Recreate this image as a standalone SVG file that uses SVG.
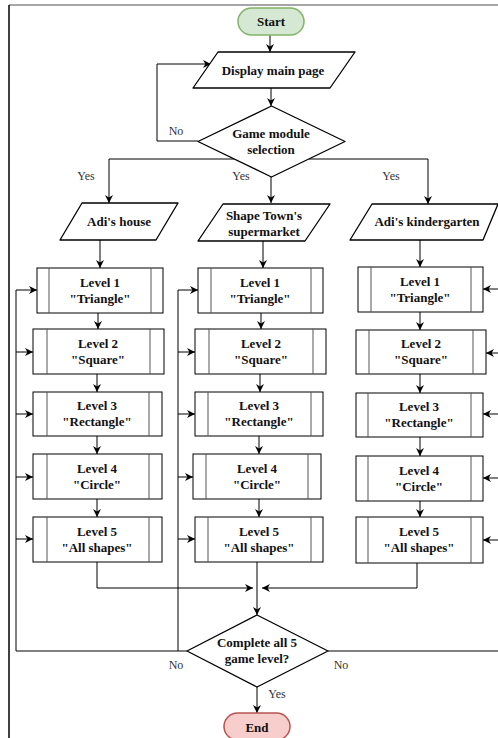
<svg xmlns="http://www.w3.org/2000/svg" width="498" height="738" viewBox="0 0 498 738">
<style>
.t{font-family:"Liberation Serif","Times New Roman","DejaVu Serif",serif;font-size:13px;font-weight:bold;fill:#111;text-anchor:middle}
.l{font-family:"Liberation Serif","Times New Roman","DejaVu Serif",serif;font-size:12px;fill:#333;text-anchor:middle}
.s{fill:#fff;stroke:#000;stroke-width:1.3;stroke-linejoin:round}
.b{fill:#fff;stroke:#000;stroke-width:1}
.i{stroke:#555;stroke-width:1;fill:none}
.c{fill:none;stroke:#000;stroke-width:1}
</style>
<defs>
<marker id="a" viewBox="0 0 10 10" refX="10" refY="5" markerWidth="8" markerHeight="8" markerUnits="userSpaceOnUse" orient="auto">
<path d="M0,0 L10,5 L0,10 L3,5 z" fill="#000"/>
</marker>
</defs>
<rect width="498" height="738" fill="#fff"/>
<g id="frame">
<line x1="9" y1="5" x2="498" y2="5" stroke="#888" stroke-width="1.5"/>
<line x1="9" y1="5" x2="9" y2="738" stroke="#000" stroke-width="1.5"/>
</g>
<g id="connectors">
<path class="c" d="M270,35 V52" marker-end="url(#a)"/>
<path class="c" d="M271,88 V106" marker-end="url(#a)"/>
<path class="c" d="M198,141 H157 V64 H211" marker-end="url(#a)"/>
<path class="c" d="M234,159 H109 V203" marker-end="url(#a)"/>
<path class="c" d="M271,177 V203" marker-end="url(#a)"/>
<path class="c" d="M309,159 H428 V204" marker-end="url(#a)"/>
<path class="c" d="M100,240 V268" marker-end="url(#a)"/>
<path class="c" d="M263,241 V268" marker-end="url(#a)"/>
<path class="c" d="M420,240 V267" marker-end="url(#a)"/>
<path class="c" d="M98,313 V329" marker-end="url(#a)"/>
<path class="c" d="M97,374 V392" marker-end="url(#a)"/>
<path class="c" d="M97,436 V454" marker-end="url(#a)"/>
<path class="c" d="M97,499 V517" marker-end="url(#a)"/>
<path class="c" d="M261,313 V329" marker-end="url(#a)"/>
<path class="c" d="M260,374 V392" marker-end="url(#a)"/>
<path class="c" d="M259,436 V454" marker-end="url(#a)"/>
<path class="c" d="M259,499 V517" marker-end="url(#a)"/>
<path class="c" d="M420,312 V330" marker-end="url(#a)"/>
<path class="c" d="M420,374 V393" marker-end="url(#a)"/>
<path class="c" d="M420,437 V456" marker-end="url(#a)"/>
<path class="c" d="M420,501 V517" marker-end="url(#a)"/>
<path class="c" d="M97,562 V588 H253" marker-end="url(#a)"/>
<path class="c" d="M417,563 V588 H262" marker-end="url(#a)"/>
<path class="c" d="M257,562 V615" marker-end="url(#a)"/>
<path class="c" d="M257,687 V713" marker-end="url(#a)"/>
<path class="c" d="M187,651 H16 V290"/>
<path class="c" d="M16,290 H37" marker-end="url(#a)"/>
<path class="c" d="M16,352 H33" marker-end="url(#a)"/>
<path class="c" d="M16,414 H33" marker-end="url(#a)"/>
<path class="c" d="M16,477 H33" marker-end="url(#a)"/>
<path class="c" d="M16,539 H33" marker-end="url(#a)"/>
<path class="c" d="M178,651 V290"/>
<path class="c" d="M178,290 H198" marker-end="url(#a)"/>
<path class="c" d="M178,352 H195" marker-end="url(#a)"/>
<path class="c" d="M178,414 H195" marker-end="url(#a)"/>
<path class="c" d="M178,477 H193" marker-end="url(#a)"/>
<path class="c" d="M178,539 H195" marker-end="url(#a)"/>
<path class="c" d="M328,651 H500 V289"/>
<path class="c" d="M500,289 H483" marker-end="url(#a)"/>
<path class="c" d="M500,353 H486" marker-end="url(#a)"/>
<path class="c" d="M500,414 H483" marker-end="url(#a)"/>
<path class="c" d="M500,478 H483" marker-end="url(#a)"/>
<path class="c" d="M500,540 H483" marker-end="url(#a)"/>
<text class="l" x="176" y="135">No</text>
<text class="l" x="86" y="180">Yes</text>
<text class="l" x="241" y="180">Yes</text>
<text class="l" x="391" y="180">Yes</text>
<text class="l" x="176" y="669">No</text>
<text class="l" x="341" y="669">No</text>
<text class="l" x="277" y="698">Yes</text>
</g>
<g id="start">
<rect x="238" y="8" width="66" height="27" rx="13.5" fill="#d5e8d4" stroke="#82b366" stroke-width="1.5"/>
<text class="t" x="271" y="26">Start</text>
</g>
<g id="display">
<path class="s" d="M218,52 H355 L330,88 H193 Z"/>
<text class="t" x="273" y="75">Display main page</text>
</g>
<g id="selection">
<path class="s" d="M271.5,106 L345,141.5 L271.5,177 L198,141.5 Z"/>
<text class="t" x="271" y="138">Game module</text>
<text class="t" x="271" y="154">selection</text>
</g>
<g id="adis-house">
<path class="s" d="M82,203 H178 L156,240 H60 Z"/>
<text class="t" x="119" y="226">Adi's house</text>
</g>
<g id="supermarket">
<path class="s" d="M223,204 H330 L305,241 H198 Z"/>
<text class="t" x="264" y="220">Shape Town's</text>
<text class="t" x="264" y="236">supermarket</text>
</g>
<g id="kindergarten">
<path class="s" d="M372,204 H498 L483,240 H350 Z"/>
<text class="t" x="427" y="226">Adi's kindergarten</text>
</g>
<g id="c1-l1"><rect class="b" x="37" y="268" width="126" height="45"/><path class="i" d="M49,268 V313 M151,268 V313"/><text class="t" x="100" y="287">Level 1</text><text class="t" x="100" y="303">"Triangle"</text></g>
<g id="c1-l2"><rect class="b" x="33" y="329" width="131" height="45"/><path class="i" d="M47,329 V374 M150,329 V374"/><text class="t" x="98" y="348">Level 2</text><text class="t" x="98" y="364">"Square"</text></g>
<g id="c1-l3"><rect class="b" x="33" y="392" width="129" height="44"/><path class="i" d="M47,392 V436 M149,392 V436"/><text class="t" x="97" y="410">Level 3</text><text class="t" x="97" y="426">"Rectangle"</text></g>
<g id="c1-l4"><rect class="b" x="33" y="454" width="129" height="45"/><path class="i" d="M47,454 V499 M149,454 V499"/><text class="t" x="97" y="473">Level 4</text><text class="t" x="97" y="489">"Circle"</text></g>
<g id="c1-l5"><rect class="b" x="33" y="517" width="129" height="45"/><path class="i" d="M47,517 V562 M149,517 V562"/><text class="t" x="97" y="536">Level 5</text><text class="t" x="97" y="552">"All shapes"</text></g>
<g id="c2-l1"><rect class="b" x="198" y="268" width="125" height="45"/><path class="i" d="M211,268 V313 M311,268 V313"/><text class="t" x="260" y="287">Level 1</text><text class="t" x="260" y="303">"Triangle"</text></g>
<g id="c2-l2"><rect class="b" x="195" y="329" width="131" height="45"/><path class="i" d="M209,329 V374 M313,329 V374"/><text class="t" x="261" y="348">Level 2</text><text class="t" x="261" y="364">"Square"</text></g>
<g id="c2-l3"><rect class="b" x="195" y="392" width="128" height="44"/><path class="i" d="M208,392 V436 M311,392 V436"/><text class="t" x="259" y="410">Level 3</text><text class="t" x="259" y="426">"Rectangle"</text></g>
<g id="c2-l4"><rect class="b" x="193" y="454" width="128" height="45"/><path class="i" d="M206,454 V499 M308,454 V499"/><text class="t" x="257" y="473">Level 4</text><text class="t" x="257" y="489">"Circle"</text></g>
<g id="c2-l5"><rect class="b" x="195" y="517" width="128" height="45"/><path class="i" d="M208,517 V562 M311,517 V562"/><text class="t" x="259" y="536">Level 5</text><text class="t" x="259" y="552">"All shapes"</text></g>
<g id="c3-l1"><rect class="b" x="358" y="267" width="125" height="45"/><path class="i" d="M371,267 V312 M471,267 V312"/><text class="t" x="420" y="286">Level 1</text><text class="t" x="420" y="302">"Triangle"</text></g>
<g id="c3-l2"><rect class="b" x="356" y="330" width="130" height="44"/><path class="i" d="M369,330 V374 M473,330 V374"/><text class="t" x="421" y="348">Level 2</text><text class="t" x="421" y="364">"Square"</text></g>
<g id="c3-l3"><rect class="b" x="356" y="393" width="127" height="44"/><path class="i" d="M368,393 V437 M471,393 V437"/><text class="t" x="419" y="411">Level 3</text><text class="t" x="419" y="427">"Rectangle"</text></g>
<g id="c3-l4"><rect class="b" x="356" y="456" width="127" height="45"/><path class="i" d="M368,456 V501 M471,456 V501"/><text class="t" x="419" y="475">Level 4</text><text class="t" x="419" y="491">"Circle"</text></g>
<g id="c3-l5"><rect class="b" x="356" y="517" width="127" height="46"/><path class="i" d="M368,517 V563 M471,517 V563"/><text class="t" x="419" y="536">Level 5</text><text class="t" x="419" y="552">"All shapes"</text></g>
<g id="complete">
<path class="s" d="M257,615 L328,651 L257,687 L187,651 Z"/>
<text class="t" x="257" y="647">Complete all 5</text>
<text class="t" x="257" y="663">game level?</text>
</g>
<g id="end">
<rect x="224" y="713" width="66" height="27" rx="13.5" fill="#f8cecc" stroke="#b85450" stroke-width="1.5"/>
<text class="t" x="257" y="732">End</text>
</g>
</svg>
